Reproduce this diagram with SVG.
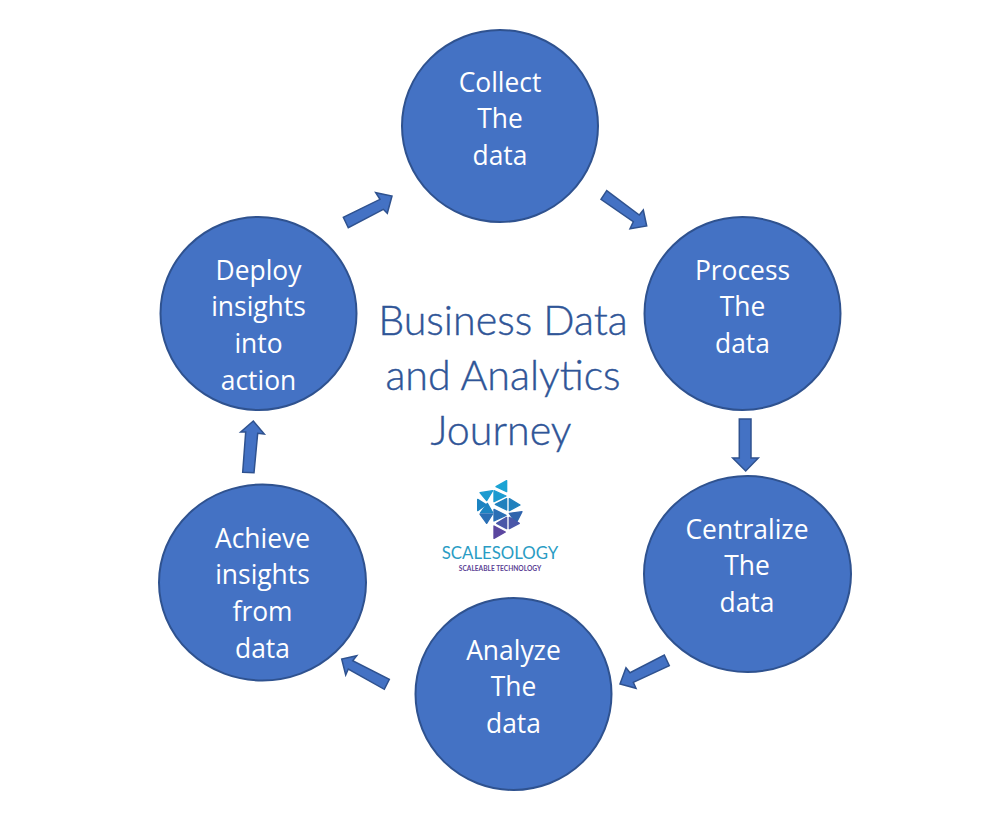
<svg xmlns="http://www.w3.org/2000/svg" width="997" height="819" viewBox="0 0 997 819">
<style>
.c{fill:#4472c4;stroke:#2f528f;stroke-width:2}
.a{fill:#4472c4;stroke:#2f528f;stroke-width:1.500}
.t{font-family:"Open Sans","Noto Sans",sans-serif;font-size:26.400px;fill:#fff;text-anchor:middle}
.h{font-family:"Lato","Noto Sans",sans-serif;font-size:41.200px;font-weight:300;fill:#2f5597;stroke:#2f5597;stroke-width:.4;text-anchor:middle}
.l{stroke-width:4;stroke-linejoin:round}
</style>
<rect width="997" height="819" fill="#fff"/>
<g id="connectors">
<polygon class="a" points="606.7,190.7 601,199.3 633.3,221.7 630,228.7 646.7,226 643.3,210 639.3,215"/>
<polygon class="a" points="739.3,419 751,419 751,458 758.3,458 745.7,471 732.7,458 739.3,458"/>
<polygon class="a" points="664.3,655 669.3,665.7 633.3,682.3 636,688.3 620,684 626,667.7 630,672.7"/>
<polygon class="a" points="389.3,679.3 384.3,689.3 348.3,669 345.7,675 341.7,659 356.7,655.7 352.7,660.7"/>
<polygon class="a" points="242.7,472.3 254,472.7 257.7,433.3 264.3,434 253.3,421 240.7,432 245.7,432"/>
<polygon class="a" points="343.3,217.3 348.3,227.7 383.3,209.3 387.3,213.3 392,196 375.7,192.7 380,199.3"/>
</g>
<g id="node-collect"><ellipse class="c" cx="500" cy="126" rx="98" ry="96"/>
<text class="t" x="500" y="91.500">Collect</text><text class="t" x="500" y="127.500">The</text><text class="t" x="500" y="164.500">data</text></g>
<g id="node-process"><ellipse class="c" cx="742.500" cy="313.500" rx="98" ry="96.500"/>
<text class="t" x="742.500" y="279.500">Process</text><text class="t" x="742.500" y="315.500">The</text><text class="t" x="742.500" y="352.500">data</text></g>
<g id="node-centralize"><ellipse class="c" cx="747.500" cy="574" rx="103.500" ry="98"/>
<text class="t" x="747" y="538.500">Centralize</text><text class="t" x="747" y="574.500">The</text><text class="t" x="747" y="611.500">data</text></g>
<g id="node-analyze"><ellipse class="c" cx="513.500" cy="694" rx="98" ry="96"/>
<text class="t" x="513.500" y="659.500">Analyze</text><text class="t" x="513.500" y="695.500">The</text><text class="t" x="513.500" y="732.500">data</text></g>
<g id="node-achieve"><ellipse class="c" cx="262.500" cy="582.500" rx="103.500" ry="98"/>
<text class="t" x="262.500" y="547.500">Achieve</text><text class="t" x="262.500" y="583.500">insights</text><text class="t" x="262.500" y="620.500">from</text><text class="t" x="262.500" y="657.500">data</text></g>
<g id="node-deploy"><ellipse class="c" cx="258.500" cy="313.500" rx="98" ry="96.500"/>
<text class="t" x="258.500" y="279.500">Deploy</text><text class="t" x="258.500" y="315.500">insights</text><text class="t" x="258.500" y="352.500">into</text><text class="t" x="258.500" y="389.500">action</text></g>
<g id="title"><text class="h" x="503" y="335">Business Data</text><text class="h" x="503" y="390">and Analytics</text><text class="h" x="501" y="445">Journey</text></g>
<g id="logo">
<g transform="translate(430,470) scale(.3333)">
<g class="l" fill="#1ba3d4" stroke="#1ba3d4"><polygon points="230,32 230,65 198,50"/></g>
<g class="l" fill="#1c9bd0" stroke="#1c9bd0"><polygon points="150,68 188,62 170,92"/><polygon points="192,62 228,78 192,95"/></g>
<g class="l" fill="#1c84c2" stroke="#1c84c2"><polygon points="143,88 168,104 143,122"/><polygon points="152,128 188,128 172,100"/></g>
<g class="l" fill="#2080bd" stroke="#2080bd"><polygon points="230,86 230,120 196,103"/><polygon points="238,86 270,105 238,122"/></g>
<g class="l" fill="#2a6fb5" stroke="#2a6fb5"><polygon points="150,132 188,132 170,160"/><polygon points="192,118 228,136 192,153"/></g>
<g class="l" fill="#2f64ad" stroke="#2f64ad"><polygon points="238,130 276,125 258,160"/></g>
<g class="l" fill="#4a57a8" stroke="#4a57a8"><polygon points="230,142 230,176 200,160"/><polygon points="238,176 268,160 238,142"/></g>
<g class="l" fill="#5b469f" stroke="#5b469f"><polygon points="192,168 226,186 192,205"/></g>
</g>
<text x="500" y="559" font-family="Lato,'Noto Sans',sans-serif" font-size="16.800" fill="#2a9cc4" text-anchor="middle">SCALESOLOGY</text>
<text x="500" y="571" font-family="Lato,'Noto Sans',sans-serif" font-size="6.600" font-weight="700" fill="#5b3f95" text-anchor="middle">SCALEABLE TECHNOLOGY</text>
</g>
</svg>
